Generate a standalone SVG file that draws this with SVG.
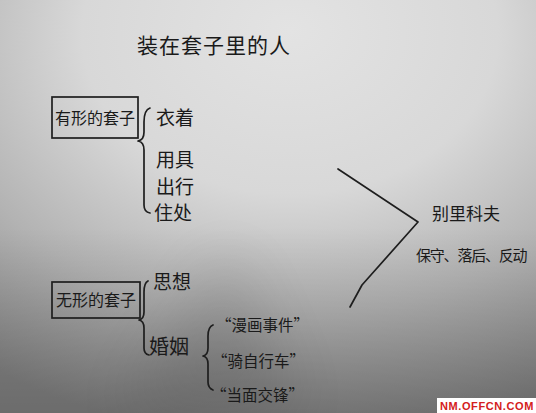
<svg xmlns="http://www.w3.org/2000/svg" width="536" height="413" viewBox="0 0 536 413">
<defs>
<radialGradient id="bg" gradientUnits="userSpaceOnUse" cx="290" cy="40" r="400" fx="290" fy="30" gradientTransform="translate(290 40) scale(1.3 1) translate(-290 -40)">
<stop offset="0" stop-color="#e3e3e3"/>
<stop offset="0.4" stop-color="#d8d8d8"/>
<stop offset="0.7" stop-color="#b3b3b3"/>
<stop offset="1" stop-color="#878787"/>
</radialGradient>
<linearGradient id="shade" x1="0" y1="0" x2="0" y2="1">
<stop offset="0" stop-color="#000" stop-opacity="0"/>
<stop offset="0.55" stop-color="#000" stop-opacity="0"/>
<stop offset="1" stop-color="#000" stop-opacity="0.2"/>
</linearGradient>
<filter id="blur" x="-50%" y="-50%" width="200%" height="200%"><feGaussianBlur stdDeviation="30"/></filter>
</defs>
<style>
.t{font-family:"Noto Sans CJK SC","Noto Sans CJK JP",sans-serif;fill:#1a1a1a;font-weight:400}
.ln{fill:none;stroke:#1e1e1e;stroke-width:1.7;stroke-linecap:round;stroke-linejoin:round}
.box{fill:none;stroke:#1e1e1e;stroke-width:1.7}
</style>
<rect x="0" y="0" width="536" height="413" fill="url(#bg)"/>
<rect x="0" y="0" width="536" height="413" fill="url(#shade)"/>
<path d="M230,250 L300,413 L120,413 Z" fill="#000" opacity="0.12" filter="url(#blur)"/>

<g id="title"><text class="t" x="137" y="53" font-size="21" letter-spacing="1">装在套子里的人</text></g>

<g id="node-youxing">
<rect class="box" x="52" y="97" width="86" height="41"/>
<text class="t" x="55" y="124" font-size="16">有形的套子</text>
</g>
<g id="node-yizhuo"><text class="t" x="156" y="125" font-size="19">衣着</text></g>
<g id="node-yongju"><text class="t" x="156" y="167" font-size="19">用具</text></g>
<g id="node-chuxing"><text class="t" x="156" y="194" font-size="19">出行</text></g>
<g id="node-zhuchu"><text class="t" x="154" y="220" font-size="19">住处</text></g>

<g id="node-wuxing">
<rect class="box" x="52" y="282" width="88" height="36"/>
<text class="t" x="56" y="306" font-size="16">无形的套子</text>
</g>
<g id="node-sixiang"><text class="t" x="153" y="289" font-size="19">思想</text></g>
<g id="node-hunyin"><text class="t" x="149" y="354" font-size="20">婚姻</text></g>
<g id="node-manhua"><text class="t" x="216" y="331" font-size="15.5">“漫画事件”</text></g>
<g id="node-qizixingche"><text class="t" x="212" y="367" font-size="15.5">“骑自行车”</text></g>
<g id="node-dangmian"><text class="t" x="211" y="401" font-size="15.5">“当面交锋”</text></g>

<g id="node-bielikefu">
<text class="t" x="432" y="220" font-size="17">别里科夫</text>
<text class="t" x="416" y="261" font-size="15" letter-spacing="-1.2">保守、落后、反动</text>
</g>

<g id="connectors">
<path class="ln" d="M150,108 Q144,110 144,122 L144,132 Q144,140 138,141 Q144,142 144,150 L144,205 Q144,212 150,213"/>
<path class="ln" d="M148,281 Q144,283 144,292 L144,312 Q144,319 139,320 Q144,321 144,328 L144,348 Q144,354 149,355"/>
<path class="ln" d="M213,325 Q208,327 208,336 L208,348 Q208,355 203,356 Q208,357 208,364 L208,382 Q208,388 213,390"/>
<path class="ln" d="M338,169 L418,222 L362,285 L350,307"/>
</g>

<g id="watermark">
<rect x="437" y="398" width="99" height="15" fill="#ffffff"/>
<text x="440" y="410" font-family="Liberation Sans, sans-serif" font-weight="bold" font-size="11" fill="#d42020" letter-spacing="0.6">NM.OFFCN.COM</text>
</g>
</svg>
